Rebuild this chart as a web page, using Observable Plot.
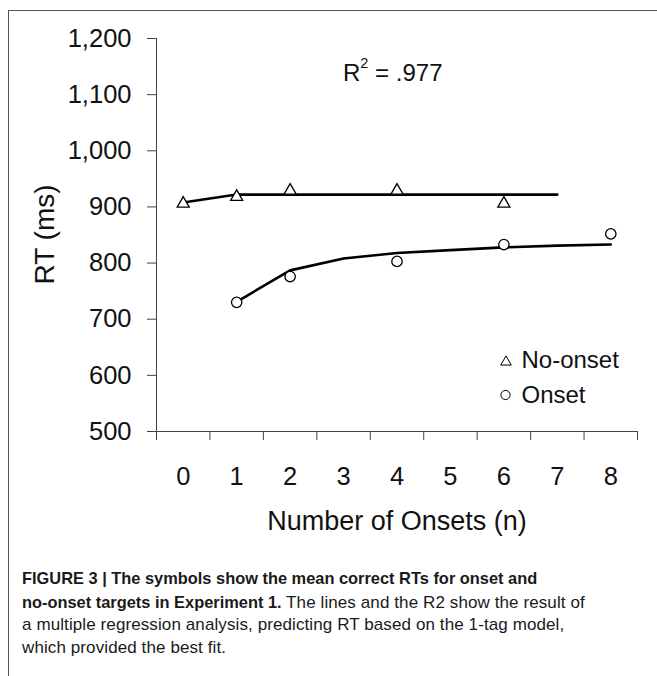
<!DOCTYPE html>
<html><head><meta charset="utf-8">
<script src="https://cdn.jsdelivr.net/npm/d3@7"></script>
<script src="https://cdn.jsdelivr.net/npm/@observablehq/plot@0.6"></script>
<style>
html,body{margin:0;padding:0;background:#fff;}
body{width:657px;height:676px;position:relative;overflow:hidden;font-family:"Liberation Sans",Arial,Helvetica,sans-serif;color:#111;}
#frame{position:absolute;left:8px;top:10px;width:660px;height:680px;border-left:1.5px solid #555;border-top:1.5px solid #555;box-sizing:border-box;}
#chart{position:absolute;left:0;top:0;}
#overlay{position:absolute;left:0;top:0;pointer-events:none;}
#caption{position:absolute;left:22px;top:567px;width:630px;font-size:17px;letter-spacing:0.1px;line-height:22.7px;color:#1a1a1a;white-space:nowrap;}
#caption b{font-weight:bold;font-size:16.4px;letter-spacing:0;}
</style></head><body>
<div id="frame"></div>
<div id="chart"></div>
<svg id="overlay" width="657" height="560" font-family="Liberation Sans, Arial, Helvetica, sans-serif" fill="#111"></svg>
<div id="caption"></div>
<script>
// ---- data ----
const onsetCounts = [0, 1, 2, 3, 4, 5, 6, 7, 8];          // x tick labels
const noOnsetN  = [0, 1, 2, 4, 6];
const noOnsetRT = [906, 918, 929, 929, 906];              // mean RT, no-onset targets
const onsetN    = [1, 2, 4, 6, 8];
const onsetRT   = [730, 776, 803, 833, 852];              // mean RT, onset targets
const noOnsetFitN  = [0, 1, 2, 3, 4, 5, 6, 7];
const noOnsetFitRT = [908, 922, 922, 922, 922, 922, 922, 922];
const onsetFitN    = [1, 2, 3, 4, 5, 6, 7, 8];
const onsetFitRT   = [731, 787, 808, 818, 823, 828, 831, 833];
const yTicks = [500, 600, 700, 800, 900, 1000, 1100, 1200];
const seriesNames = ["No-onset", "Onset"];
const r2Text = ".977";
const xLabel = "Number of Onsets (n)";
const yLabel = "RT (ms)";

const toRows = (xs, ys) => xs.map((n, i) => ({n, rt: ys[i]}));
const noOnset = toRows(noOnsetN, noOnsetRT);
const onset = toRows(onsetN, onsetRT);
const noOnsetFit = toRows(noOnsetFitN, noOnsetFitRT);
const onsetFit = toRows(onsetFitN, onsetFitRT);
const bandEdges = d3.range(onsetCounts[0] - 0.5, onsetCounts[onsetCounts.length - 1] + 1, 1);

const chart = Plot.plot({
  width: 657, height: 545,
  marginLeft: 156, marginRight: 20, marginTop: 38, marginBottom: 114,
  style: {fontFamily: "Liberation Sans, Arial, Helvetica, sans-serif", color: "#111", background: "transparent", overflow: "visible"},
  x: {domain: [bandEdges[0], bandEdges[bandEdges.length - 1]]},
  y: {domain: [yTicks[0], yTicks[yTicks.length - 1]]},
  marks: [
    Plot.frame({anchor: "left", stroke: "#444"}),
    Plot.frame({anchor: "bottom", stroke: "#444"}),
    Plot.axisY({ticks: yTicks, tickFormat: d3.format(","), tickSize: 9, tickPadding: 16, fontSize: 25.5, stroke: "#444", fill: "#111", label: null}),
    Plot.axisX({ticks: bandEdges, tickSize: 9, tickFormat: () => "", stroke: "#444", label: null}),
    Plot.axisX({ticks: onsetCounts, tickSize: 0, tickPadding: 35, fontSize: 25.5, fill: "#111", label: null}),
    Plot.line(noOnsetFit, {x: "n", y: "rt", stroke: "#000", strokeWidth: 2.6}),
    Plot.line(onsetFit, {x: "n", y: "rt", stroke: "#000", strokeWidth: 2.6, curve: "linear"}),
    Plot.dot(noOnset, {x: "n", y: "rt", symbol: "triangle", r: 4.5, fill: "#fff", stroke: "#000", strokeWidth: 1.3}),
    Plot.dot(onset, {x: "n", y: "rt", symbol: "circle", r: 5.2, fill: "#fff", stroke: "#000", strokeWidth: 1.3})
  ]
});
document.getElementById("chart").appendChild(chart);

// ---- annotations: axis titles, R², legend ----
const ov = d3.select("#overlay");
ov.append("text").attr("x", 397).attr("y", 530).attr("text-anchor", "middle").attr("font-size", 27).text(xLabel);
ov.append("text").attr("transform", "translate(54,234.5) rotate(-90)").attr("text-anchor", "middle").attr("font-size", 28).text(yLabel);
const r2 = ov.append("text").attr("x", 343).attr("y", 80.7).attr("font-size", 24);
r2.append("tspan").text("R");
r2.append("tspan").attr("font-size", 14.5).attr("dy", -13).text("2");
r2.append("tspan").attr("dy", 13).text(" = " + r2Text);
const tri = d3.symbol(d3.symbolTriangle, 48)();
ov.append("path").attr("d", tri).attr("transform", "translate(506,362)").attr("fill", "#fff").attr("stroke", "#000").attr("stroke-width", 1);
ov.append("circle").attr("cx", 505.5).attr("cy", 395).attr("r", 4.6).attr("fill", "#fff").attr("stroke", "#000").attr("stroke-width", 1);
ov.append("text").attr("x", 521.5).attr("y", 368.3).attr("font-size", 24).text(seriesNames[0]);
ov.append("text").attr("x", 521.5).attr("y", 403.3).attr("font-size", 24).text(seriesNames[1]);

// ---- caption ----
document.getElementById("caption").innerHTML =
  "<b>FIGURE 3 | The symbols show the mean correct RTs for onset and</b><br>" +
  "<b>no-onset targets in Experiment 1.</b> The lines and the R2 show the result of<br>" +
  "a multiple regression analysis, predicting RT based on the 1-tag model,<br>" +
  "which provided the best fit.";
</script>
</body></html>
